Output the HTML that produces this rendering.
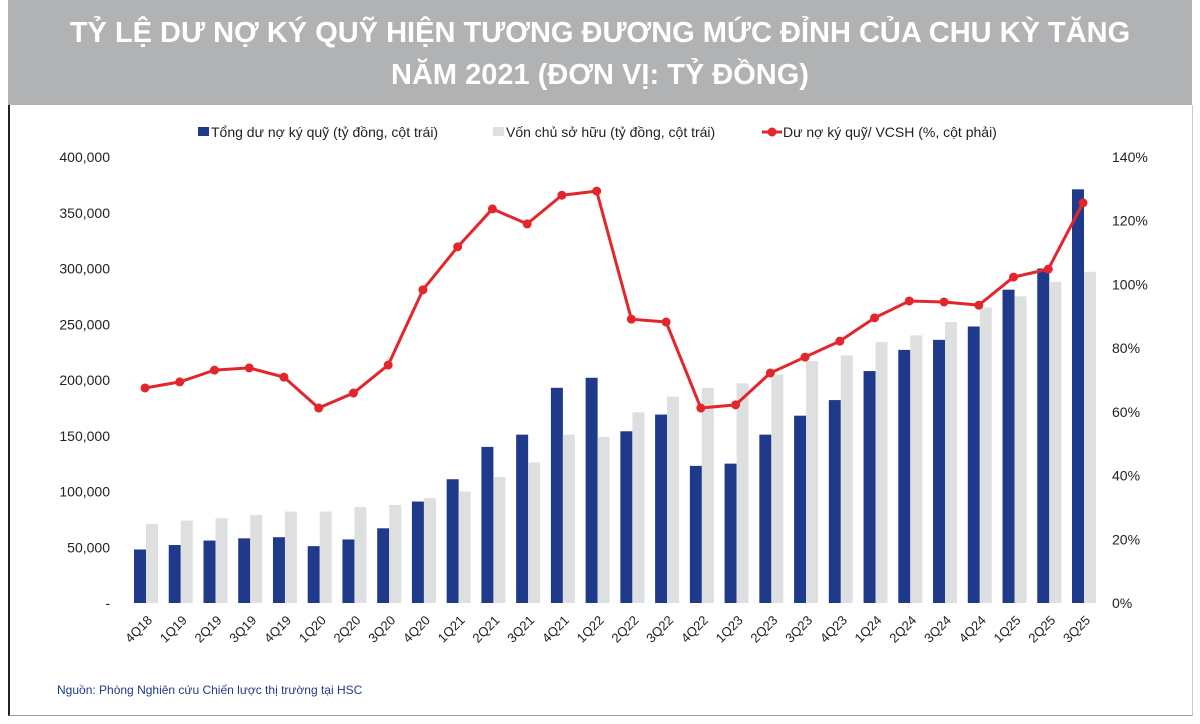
<!DOCTYPE html>
<html><head><meta charset="utf-8">
<style>
body{margin:0;width:1200px;height:724px;background:#fff;overflow:hidden;font-family:"Liberation Sans",sans-serif}
#hdr{position:absolute;left:8px;top:0;width:1184px;height:105px;background:#b1b2b4;color:#fff;font-weight:bold;font-size:29px;text-align:center;line-height:42px;padding-top:12px;box-sizing:border-box;letter-spacing:0px}
#panel{position:absolute;left:8px;top:105px;width:1182px;height:610px;border-left:2px solid #222;border-bottom:1px solid #999;border-right:1px solid #ccc}
</style></head><body>
<div id="hdr">TỶ LỆ DƯ NỢ KÝ QUỸ HIỆN TƯƠNG ĐƯƠNG MỨC ĐỈNH CỦA CHU KỲ TĂNG<br>NĂM 2021 (ĐƠN VỊ: TỶ ĐỒNG)</div>
<div id="panel"></div>
<svg id="c" width="1200" height="724" style="position:absolute;left:0;top:0"></svg>
<script>
const categories=["4Q18","1Q19","2Q19","3Q19","4Q19","1Q20","2Q20","3Q20","4Q20","1Q21","2Q21","3Q21","4Q21","1Q22","2Q22","3Q22","4Q22","1Q23","2Q23","3Q23","4Q23","1Q24","2Q24","3Q24","4Q24","1Q25","2Q25","3Q25"];
const marginDebt=[48000,52000,56000,58000,59000,51000,57000,67000,91000,111000,140000,151000,193000,202000,154000,169000,123000,125000,151000,168000,182000,208000,227000,236000,248000,281000,300000,371000];
const equity=[71000,74000,76000,79000,82000,82000,86000,88000,94000,100000,113000,126000,151000,149000,171000,185000,193000,197000,205000,217000,222000,234000,240000,252000,265000,275000,288000,297000];
const ratio=[67.5,69.4,73.1,73.8,70.9,61.2,65.9,74.7,98.3,111.8,123.7,119,128,129.3,89.1,88.2,61.2,62.2,72.2,77.2,82.2,89.5,94.8,94.5,93.5,102.3,104.8,125.6];
const leftTicks=[0,50000,100000,150000,200000,250000,300000,350000,400000];
const rightTicks=[0,20,40,60,80,100,120,140];
const svg=document.getElementById('c');const NS="http://www.w3.org/2000/svg";
const y0=603,yTop=157,x0=145,step=(1083-145)/27;
const yL=v=>y0-(v/400000)*(y0-yTop);
const yR=v=>y0-(v/140)*(y0-yTop);
const xC=i=>x0+i*step;
function mk(t,a,txt){const e=document.createElementNS(NS,t);for(const k in a)e.setAttribute(k,a[k]);if(txt!==undefined)e.textContent=txt;svg.appendChild(e);return e;}
leftTicks.forEach(v=>{const e=mk('text',{x:110,y:yL(v)+5,'text-anchor':'end','font-size':14,fill:'#222'},v===0?'-':v.toLocaleString('en-US'));

});
rightTicks.forEach(v=>{const e=mk('text',{x:1112,y:yR(v)+5,'font-size':14,fill:'#222'},v+'%');

});
categories.forEach((c,i)=>{const b=mk('rect',{x:xC(i)-11,y:yL(marginDebt[i]),width:12,height:y0-yL(marginDebt[i]),fill:'#1f3a8a'});


const g=mk('rect',{x:xC(i)+1,y:yL(equity[i]),width:12,height:y0-yL(equity[i]),fill:'#dedfe1'});


const t=mk('text',{x:0,y:0,'font-size':13,fill:'#222','text-anchor':'end',transform:`translate(${xC(i)+8},${621}) rotate(-45)`},c);

});
const pl=mk('polyline',{points:ratio.map((v,i)=>xC(i)+','+yR(v)).join(' '),fill:'none',stroke:'#e3262b','stroke-width':3,'stroke-linejoin':'round'});


ratio.forEach((v,i)=>{const p=mk('circle',{cx:xC(i),cy:yR(v),r:4.5,fill:'#e3262b'});

});
let l=mk('rect',{x:198,y:127,width:11,height:9,fill:'#1f3a8a'});
l=mk('text',{x:211,y:137,'font-size':14,fill:'#222'},'Tổng dư nợ ký quỹ (tỷ đồng, cột trái)');
l=mk('rect',{x:493,y:127,width:11,height:9,fill:'#dedfe1'});
l=mk('text',{x:506,y:137,'font-size':14,fill:'#222'},'Vốn chủ sở hữu (tỷ đồng, cột trái)');
l=mk('line',{x1:762,y1:132,x2:782,y2:132,stroke:'#e3262b','stroke-width':3});
l=mk('circle',{cx:772,cy:132,r:4.5,fill:'#e3262b'});
l=mk('text',{x:783,y:137,'font-size':14,fill:'#222'},'Dư nợ ký quỹ/ VCSH (%, cột phải)');
l=mk('text',{x:57,y:694,'font-size':12,fill:'#1f3a8a'},'Nguồn: Phòng Nghiên cứu Chiến lược thị trường tại HSC');
</script>
</body></html>
